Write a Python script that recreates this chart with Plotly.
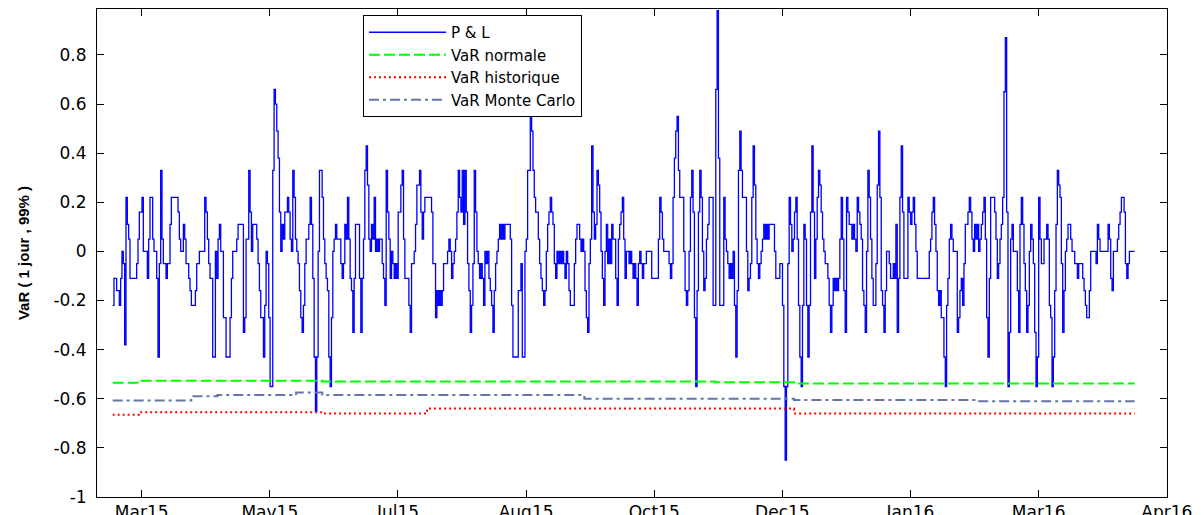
import pandas as pd
import plotly.graph_objects as go

# ---------------- data ----------------
start_date = "2015-03-15 16:00"
end_date = "2016-04-17 12:00"

pnl = [
    # Mar15 - May15
    -0.22, -0.11, -0.11, -0.16, -0.16, -0.22, -0.11, 0, -0.05, -0.38,
    0.22, 0.11, 0.05, -0.11, -0.11, -0.11, -0.11, -0.11, -0.05, 0.05,
    0.16, 0.16, 0.22, 0, 0, 0, -0.11, 0.05, 0.22, 0.22,
    0.05, 0, 0, -0.11, -0.43, -0.05, 0.33, 0.05, -0.05, -0.05,
    -0.11, -0.05, -0.05, 0.11, 0.22, 0.22, 0.22, 0.22, 0.22, 0.16,
    0.05, 0, 0, 0.11, 0.05, -0.05, -0.05, -0.11, -0.16, -0.22,
    -0.22, -0.22, -0.16, -0.05, -0.05, 0, 0, 0, 0, 0.22,
    0.16, 0.05, -0.05, -0.11, -0.11, -0.43, -0.43, 0, -0.11, 0.05,
    0.11, 0, 0, -0.27, -0.27, -0.43, -0.43, -0.43, -0.27, -0.11,
    0, 0, 0, 0.05, 0.11, 0.11, 0.11, 0.11, -0.33, -0.27,
    0.05, 0.05, 0.33, 0.16, 0, 0.11, 0.11, 0.11, 0.05, -0.05,
    -0.16, -0.27, -0.27, -0.43, -0.22, 0, -0.05, -0.27, -0.55, -0.55,
    0.33, 0.66,
    # May15 - Aug15
    0.60, 0.49, 0.38, 0.16, 0, 0.11, 0.05, 0.16, 0.16, 0.22,
    0.16, 0.05, 0, 0.33, 0.22, 0.05, 0, -0.05, -0.16, -0.27,
    -0.33, -0.22, -0.05, 0.05, 0.05, 0.11, 0.22, 0.11, -0.11, -0.43,
    -0.65, -0.43, 0, 0.33, 0.33, 0.22, 0.05, -0.05, -0.11, -0.16,
    -0.43, -0.55, -0.27, 0, 0.05, 0.11, 0.05, 0.05, 0.05, -0.05,
    -0.11, -0.05, 0.11, 0.05, 0.22, 0.05, -0.11, -0.16, -0.33, -0.11,
    0.11, 0.11, 0.11, -0.11, -0.33, -0.11, 0.05, 0.33, 0.43, 0.27,
    0.05, 0, 0.11, 0.05, 0.22, 0, 0.05, 0, 0.05, 0.05,
    -0.05, -0.11, -0.22, 0.33, 0.16, 0.05, -0.11, 0, -0.05, -0.11,
    -0.05, -0.11, 0.16, 0.16, 0.27, 0.33, 0.05, -0.11, -0.11, -0.11,
    -0.22, -0.33, -0.05, -0.05, 0, 0.11, 0.27, 0.27, 0.33, 0.16,
    0.05, 0.16, 0.22, 0.22, 0.22, 0.22, 0.22, 0.16, -0.05, -0.05,
    -0.27, -0.16, -0.22, -0.16, -0.22, -0.16, -0.05, -0.05,
    # Aug15 - Oct15
    -0.05, 0, 0.05, 0, -0.11, -0.05, 0, 0.05, 0.16, 0.33,
    0.22, 0.16, 0.33, 0.11, 0.33, 0.16, -0.05, -0.16, -0.33, -0.22,
    -0.05, 0.33, 0.16, 0, -0.05, -0.11, -0.05, -0.11, -0.22, 0,
    -0.05, 0, -0.11, -0.16, -0.22, -0.33, -0.16, -0.05, 0, 0.05,
    0.11, 0.05, 0.11, 0.05, 0.11, 0.11, 0.11, 0.11, 0.05, -0.22,
    -0.43, -0.43, -0.43, -0.43, -0.16, -0.16, -0.05, -0.43, -0.43, 0,
    0.05, 0.33, 0.33, 0.55, 0.49, 0.33, 0.22, 0.16, 0.16, 0.05,
    -0.05, -0.11, -0.16, -0.22, -0.16, 0, 0.11, 0.16, 0.22, 0.16,
    0.11, -0.05, -0.11, 0, -0.05, 0, -0.05, 0, -0.05, -0.11,
    0, -0.05, -0.16, -0.22, -0.22, -0.22, -0.05, 0.05, 0.11, 0.11,
    0.05, 0, 0.05, 0, -0.16, -0.27, -0.33, -0.05, 0.05, 0.43,
    0.16, 0.05, 0.11, 0.33, 0.27, 0.16, 0, -0.11, -0.22, 0,
    0.11, -0.05, 0.05, -0.05, 0.11, 0.05,
    # Oct15 - Dec15
    0.05, -0.11, -0.22, 0.05, 0.11, 0.16, 0.22, 0.05, -0.11, 0,
    0, -0.05, 0, -0.05, -0.11, -0.05, -0.11, -0.22, -0.05, 0,
    -0.05, -0.11, -0.05, -0.05, 0, 0, 0, 0, -0.11, -0.11,
    -0.11, -0.11, -0.11, 0.05, 0.22, 0.16, 0.05, 0, 0, 0,
    0, -0.05, -0.11, -0.05, 0.22, 0.38, 0.49, 0.55, 0.33, 0.22,
    0.22, 0.22, 0, -0.16, -0.22, -0.16, 0, 0.22, 0.33, 0.16,
    -0.27, -0.55, -0.16, 0.16, 0.33, 0.22, 0, -0.16, -0.11, 0.05,
    0.11, 0.22, 0.22, 0.22, -0.22, -0.22, 0.66, 0.98, 0.38, -0.22,
    -0.22, -0.22, 0.22, 0.05, 0, -0.05, -0.11, -0.05, -0.11, 0,
    -0.22, -0.43, -0.16, 0.33, 0.49, 0.33, 0.22, 0.22, 0.22, 0,
    -0.16, -0.11, -0.05, 0.22, 0.43, 0.27, 0.05, -0.05, -0.11, -0.05,
    0, 0.05, 0.11, 0.05, 0.11, 0.05, 0.11, 0.11, 0.11, 0.11,
    0, -0.11, -0.11, -0.11, -0.05, -0.05, -0.22, -0.55,
    # Dec15 - Feb16
    -0.85, -0.55, -0.05, 0.22, 0.11, 0, 0.05, 0.16, 0.22, 0.05,
    -0.22, -0.43, -0.55, -0.22, 0.11, 0.05, -0.22, -0.43, -0.22, 0.16,
    0.43, 0.16, -0.11, 0.05, 0.22, 0.33, 0.27, 0.16, 0.05, 0,
    -0.05, -0.05, -0.11, -0.22, -0.33, -0.22, -0.11, -0.16, -0.11, -0.16,
    -0.11, 0.05, 0.22, 0.05, -0.16, -0.33, 0.22, 0.16, 0.11, 0.11,
    0.05, 0.11, 0.05, 0, 0.22, 0.16, 0.11, 0.05, -0.16, -0.22,
    -0.33, 0, 0.33, 0.22, 0.05, -0.11, -0.22, -0.22, -0.05, 0.27,
    0.49, 0.22, -0.16, -0.22, -0.33, -0.16, 0, 0, -0.05, -0.11,
    -0.11, -0.05, -0.11, 0.11, -0.33, -0.11, 0.22, 0.43, 0.16, -0.11,
    -0.11, -0.11, 0.22, 0.16, 0.11, 0.16, 0.22, 0.11, 0, -0.11,
    -0.11, -0.11, -0.11, -0.11, -0.11, -0.11, -0.11, -0.11, 0, 0.05,
    0.16, 0.22, 0.11, 0, -0.16, -0.22, -0.16, -0.27, -0.27, -0.43,
    -0.55, -0.22, -0.11, 0.05, 0.11, 0.05, 0, 0,
    # Feb16 - Apr16
    0, -0.33, -0.27, -0.16, -0.11, -0.22, -0.05, 0.11, 0.11, 0.16,
    0.22, 0.16, 0.05, 0, 0.11, 0.05, 0.11, 0, 0.05, 0.11,
    0.16, 0.22, 0.05, -0.27, -0.43, -0.11, 0.22, 0.22, 0.22, 0.16,
    0.05, -0.11, -0.05, 0.05, 0.11, 0.22, 0.65, 0.87, 0.16, -0.55,
    -0.33, 0.05, 0.11, 0, 0, 0, -0.16, -0.33, 0.11, 0.22,
    0.11, -0.05, -0.16, -0.33, -0.22, 0, 0.11, 0.05, -0.05, -0.33,
    -0.55, -0.43, 0.22, 0.05, -0.05, -0.05, 0.05, 0.05, 0.11, 0.05,
    -0.22, -0.27, -0.55, -0.43, -0.16, 0.11, 0.33, 0.27, 0.22, -0.05,
    -0.33, -0.16, 0, 0.05, 0.11, 0.11, 0.05, 0, 0, -0.05,
    -0.05, -0.11, -0.05, -0.05, -0.05, -0.11, -0.16, -0.22, -0.27, -0.27,
    -0.16, 0, 0, 0, 0, -0.05, 0.11, 0.05, 0, 0,
    0, 0, 0, 0, 0.11, 0.05, -0.11, -0.16, 0, 0,
    0, 0.05, 0.11, 0.16, 0.22, 0.22, 0.16, -0.05, -0.11, -0.05,
    0, 0, 0, 0, 0,
]

var_normale = [
    -0.535, -0.527, -0.527, -0.527, -0.527, -0.527, -0.527, -0.527, -0.53, -0.53,
    -0.53, -0.53, -0.53, -0.53, -0.53, -0.53, -0.53, -0.53, -0.53, -0.53,
    -0.53, -0.53, -0.53, -0.533, -0.533, -0.533, -0.538, -0.538, -0.538, -0.538,
    -0.538, -0.538, -0.538, -0.538, -0.538, -0.538, -0.538, -0.538, -0.538, -0.538,
]
var_historique = [
    -0.665, -0.655, -0.655, -0.655, -0.655, -0.655, -0.655, -0.655, -0.66, -0.66,
    -0.66, -0.66, -0.64, -0.64, -0.64, -0.64, -0.64, -0.64, -0.64, -0.64,
    -0.64, -0.64, -0.64, -0.64, -0.64, -0.64, -0.66, -0.66, -0.66, -0.66,
    -0.66, -0.66, -0.66, -0.66, -0.66, -0.66, -0.66, -0.66, -0.66, -0.66,
]
var_monte_carlo = [
    -0.607, -0.607, -0.607, -0.59, -0.585, -0.585, -0.585, -0.575, -0.585, -0.585,
    -0.585, -0.585, -0.585, -0.585, -0.585, -0.585, -0.585, -0.585, -0.6, -0.6,
    -0.6, -0.6, -0.6, -0.6, -0.6, -0.6, -0.605, -0.605, -0.605, -0.605,
    -0.605, -0.605, -0.605, -0.61, -0.61, -0.61, -0.61, -0.61, -0.61, -0.61,
]

tick_dates = ["2015-03-27", "2015-05-16", "2015-07-05", "2015-08-24", "2015-10-13",
              "2015-12-02", "2016-01-21", "2016-03-11", "2016-04-30"]
tick_labels = ["Mar15", "May15", "Jul15", "Aug15", "Oct15", "Dec15", "Jan16", "Mar16", "Apr16"]
y_ticks = [-1, -0.8, -0.6, -0.4, -0.2, 0, 0.2, 0.4, 0.6, 0.8]
y_tick_labels = ["-1", "-0.8", "-0.6", "-0.4", "-0.2", "0", "0.2", "0.4", "0.6", "0.8"]

# ---------------- figure ----------------
pnl_dates = pd.date_range(start_date, end_date, periods=len(pnl))
var_dates = pd.date_range(start_date, end_date, periods=len(var_normale))

fig = go.Figure()
fig.add_trace(go.Scatter(x=pnl_dates, y=pnl, mode="lines", name="P &amp; L",
                         line=dict(color="#0000FF", width=1.3, shape="hv")))
fig.add_trace(go.Scatter(x=var_dates, y=var_normale, mode="lines", name="VaR normale",
                         line=dict(color="#00FF00", width=2, shape="hv", dash="11px,4px")))
fig.add_trace(go.Scatter(x=var_dates, y=var_historique, mode="lines", name="VaR historique",
                         line=dict(color="#FF0000", width=2, shape="hv", dash="2px,3px")))
fig.add_trace(go.Scatter(x=var_dates, y=var_monte_carlo, mode="lines", name="VaR Monte Carlo",
                         line=dict(color="#6476A8", width=2, shape="hv", dash="10px,4px,3px,4px")))

axis_font = dict(family="DejaVu Sans", size=17, color="black")

fig.update_layout(
    template="none",
    width=1196, height=507,
    margin=dict(l=89, r=37, t=1, b=18, pad=0),
    paper_bgcolor="white", plot_bgcolor="white",
    showlegend=True,
    legend=dict(
        x=0.2486, y=0.9877, xanchor="left", yanchor="top",
        bgcolor="white", bordercolor="black", borderwidth=1,
        font=dict(family="DejaVu Sans", size=15, color="black"),
        itemwidth=77, tracegroupgap=0,
    ),
    xaxis=dict(
        type="date",
        range=["2015-03-09 13:30", "2016-04-30 02:00"],
        tickmode="array", tickvals=tick_dates, ticktext=tick_labels,
        ticks="inside", ticklen=7, tickwidth=1, tickcolor="black",
        showline=True, linecolor="black", linewidth=1, mirror="ticks",
        showgrid=False, zeroline=False, automargin=False,
        tickfont=axis_font,
    ),
    yaxis=dict(
        range=[-1, 0.987],
        tickmode="array", tickvals=y_ticks, ticktext=y_tick_labels,
        ticks="inside", ticklen=7, tickwidth=1, tickcolor="black",
        showline=True, linecolor="black", linewidth=1, mirror="ticks",
        showgrid=False, zeroline=False, automargin=False,
        tickfont=axis_font, ticklabelstandoff=6,
        title=dict(text="<b>VaR ( 1 jour , 99% )</b>", standoff=20,
                   font=dict(family="Liberation Sans", size=15, color="black")),
    ),
)

fig.write_html("out.html")
